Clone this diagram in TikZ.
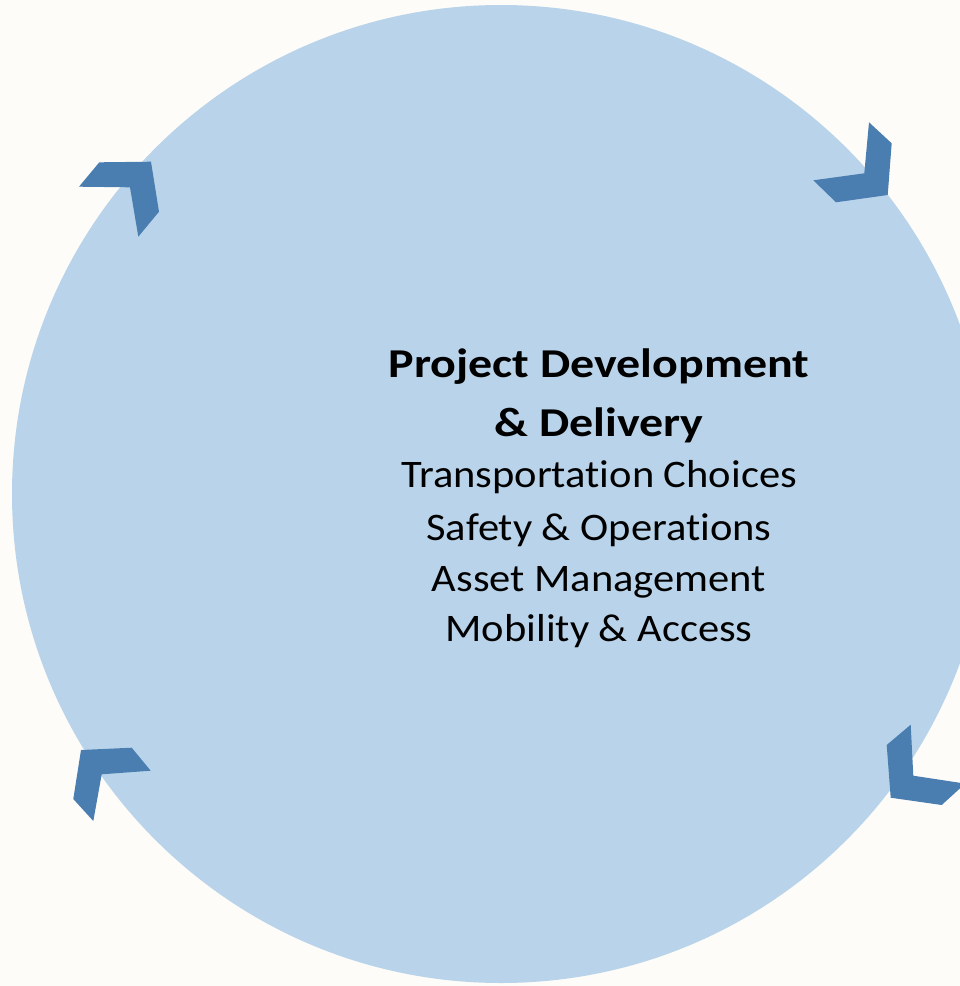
\documentclass[tikz,border=0pt]{standalone}
\usepackage{fontspec}
\setmainfont{Carlito}[Ligatures=NoCommon]
\usetikzlibrary{positioning}
\definecolor{pagebg}{RGB}{254,252,248}
\definecolor{cyclefill}{RGB}{185,212,234}
\definecolor{chevblue}{RGB}{74,126,176}
\newcommand{\widetitle}[1]{\scalebox{1.17}[1]{#1}}
\newcommand{\wideitem}[1]{\scalebox{1.09}[1]{#1}}
\tikzset{
	chevron/.style={fill=chevblue, draw=none},
	titleline/.style={anchor=base, font=\fontsize{41}{48}\selectfont\bfseries},
	itemline/.style={anchor=base, font=\fontsize{39}{46}\selectfont}
}

\begin{document}
\begin{tikzpicture}[x=1pt,y=-1pt]
	\fill[pagebg] (0,0) rectangle (960,986);
	\useasboundingbox (0,0) rectangle (960,986);
	\clip (0,0) rectangle (960,986);
	\fill[cyclefill] (501,494) circle (489pt);
	
	\fill[chevron] (79,186.7) -- (99.3,162.3) -- (151,161.7) -- (159,211.7) -- (138.3,236.7) -- (130,187.3) -- cycle;
	\fill[chevron] (813.3,180.3) -- (864.3,173.3) -- (869,122.3) -- (891.7,143.3) -- (887.7,195) -- (836,202.3) -- cycle;
	\fill[chevron] (886.7,745) -- (910.7,724.7) -- (913.3,775.7) -- (965.2,783.6) -- (941.7,805) -- (890.7,797.7) -- cycle;
	\fill[chevron] (81,750) -- (131.7,747.7) -- (150.7,770.7) -- (101.7,774.3) -- (93.3,821) -- (73.3,799) -- cycle;
	
	\node[titleline] (title1) at (599,377.5) {\widetitle{Project Development}};
	\node[titleline] (title2) at (599,436) {\widetitle{\& Delivery}};
	\node[itemline] (choices) at (599,487) {\wideitem{Transportation Choices}};
	\node[itemline] (safety) at (599,540) {\wideitem{Safety \& Operations}};
	\node[itemline] (asset) at (599,591) {\wideitem{Asset Management}};
	\node[itemline] (mobility) at (599,641) {\wideitem{Mobility \& Access}};
\end{tikzpicture}
\end{document}
